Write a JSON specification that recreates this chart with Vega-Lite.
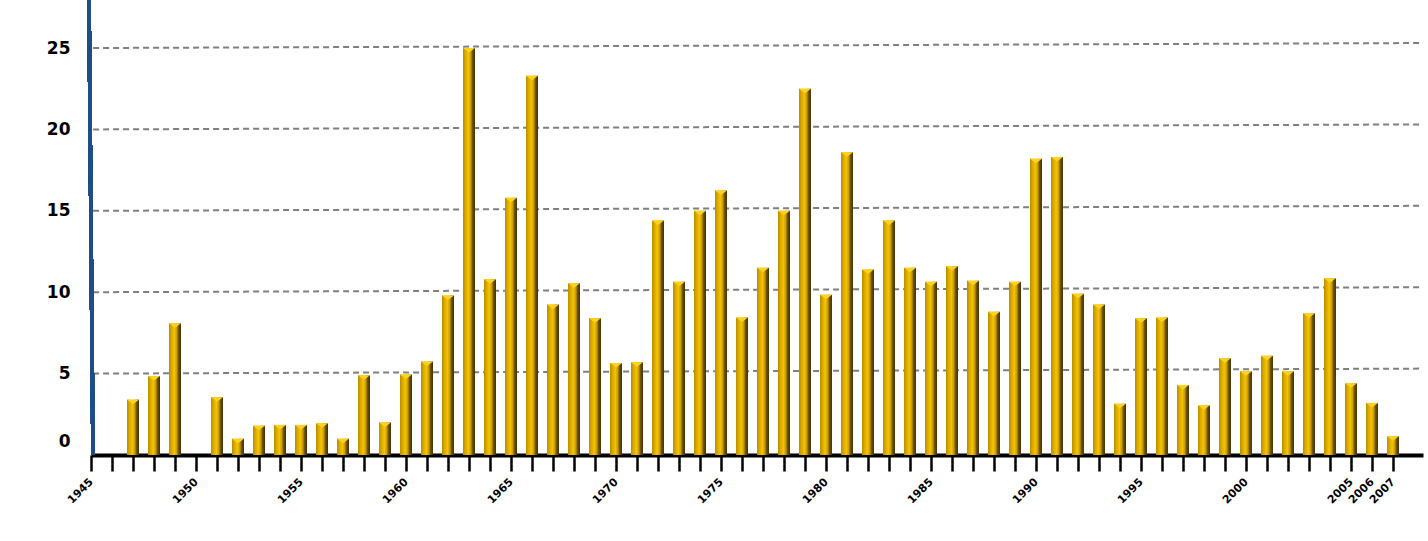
{
  "$schema": "https://vega.github.io/schema/vega-lite/v6.json",
  "width": 1332,
  "height": 455,
  "autosize": {"type": "none"},
  "padding": {"left": 91, "top": 0, "right": 5, "bottom": 86},
  "background": "white",
  "data": {
    "values": [
      {"year": 1947, "value": 3.4},
      {"year": 1948, "value": 4.85},
      {"year": 1949, "value": 8.1},
      {"year": 1951, "value": 3.55},
      {"year": 1952, "value": 1.0},
      {"year": 1953, "value": 1.8},
      {"year": 1954, "value": 1.85},
      {"year": 1955, "value": 1.85},
      {"year": 1956, "value": 1.95},
      {"year": 1957, "value": 1.0},
      {"year": 1958, "value": 4.9},
      {"year": 1959, "value": 2.0},
      {"year": 1960, "value": 4.95},
      {"year": 1961, "value": 5.75},
      {"year": 1962, "value": 9.8},
      {"year": 1963, "value": 25.0},
      {"year": 1964, "value": 10.8},
      {"year": 1965, "value": 15.8},
      {"year": 1966, "value": 23.3},
      {"year": 1967, "value": 9.25},
      {"year": 1968, "value": 10.55},
      {"year": 1969, "value": 8.4},
      {"year": 1970, "value": 5.65},
      {"year": 1971, "value": 5.7},
      {"year": 1972, "value": 14.4},
      {"year": 1973, "value": 10.65},
      {"year": 1974, "value": 15.0},
      {"year": 1975, "value": 16.25},
      {"year": 1976, "value": 8.45},
      {"year": 1977, "value": 11.5},
      {"year": 1978, "value": 15.0},
      {"year": 1979, "value": 22.5},
      {"year": 1980, "value": 9.85},
      {"year": 1981, "value": 18.6},
      {"year": 1982, "value": 11.4},
      {"year": 1983, "value": 14.4},
      {"year": 1984, "value": 11.5},
      {"year": 1985, "value": 10.65},
      {"year": 1986, "value": 11.6},
      {"year": 1987, "value": 10.7},
      {"year": 1988, "value": 8.8},
      {"year": 1989, "value": 10.65},
      {"year": 1990, "value": 18.2},
      {"year": 1991, "value": 18.3},
      {"year": 1992, "value": 9.9},
      {"year": 1993, "value": 9.25},
      {"year": 1994, "value": 3.15},
      {"year": 1995, "value": 8.4},
      {"year": 1996, "value": 8.45},
      {"year": 1997, "value": 4.3},
      {"year": 1998, "value": 3.05},
      {"year": 1999, "value": 5.95},
      {"year": 2000, "value": 5.15},
      {"year": 2001, "value": 6.1},
      {"year": 2002, "value": 5.15},
      {"year": 2003, "value": 8.7},
      {"year": 2004, "value": 10.85},
      {"year": 2005, "value": 4.4},
      {"year": 2006, "value": 3.2},
      {"year": 2007, "value": 1.15}
    ]
  },
  "layer": [
    {
      "data": {"values": [{"g": 5}, {"g": 10}, {"g": 15}, {"g": 20}, {"g": 25}]},
      "mark": {"type": "rule", "color": "#7f7f7f", "strokeWidth": 2, "strokeDash": [6, 4], "y2Offset": -5},
      "encoding": {
        "x": {
          "datum": 1945.1,
          "type": "quantitative",
          "scale": {"domain": [1945, 2008.43], "nice": false, "zero": false, "padding": 0},
          "axis": {
            "values": [1945, 1946, 1947, 1948, 1949, 1950, 1951, 1952, 1953, 1954, 1955, 1956, 1957, 1958, 1959, 1960, 1961, 1962, 1963, 1964, 1965, 1966, 1967, 1968, 1969, 1970, 1971, 1972, 1973, 1974, 1975, 1976, 1977, 1978, 1979, 1980, 1981, 1982, 1983, 1984, 1985, 1986, 1987, 1988, 1989, 1990, 1991, 1992, 1993, 1994, 1995, 1996, 1997, 1998, 1999, 2000, 2001, 2002, 2003, 2004, 2005, 2006, 2007],
            "tickCount": 80,
            "format": "d",
            "labelExpr": "(datum.value % 5 === 0 || datum.value >= 2005) ? datum.label : ''",
            "labelAngle": -45,
            "labelAlign": "right",
            "labelBaseline": "middle",
            "labelFont": "DejaVu Sans",
            "labelFontWeight": "bold",
            "labelFontSize": 11,
            "labelColor": "black",
            "labelPadding": 9,
            "labelOverlap": false,
            "labelFlush": false,
            "labelBound": false,
            "tickColor": "black",
            "tickWidth": 2.5,
            "tickSize": 16,
            "domainColor": "black",
            "domainWidth": 4,
            "grid": false,
            "title": null
          }
        },
        "x2": {"datum": 2008.43},
        "y": {
          "field": "g",
          "type": "quantitative",
          "scale": {"domain": [0, 27.95], "nice": false, "padding": 0},
          "axis": {
            "values": [0, 5, 10, 15, 20, 25],
            "domain": false,
            "ticks": false,
            "grid": false,
            "labelFont": "DejaVu Sans",
            "labelFontWeight": "bold",
            "labelFontSize": 17,
            "labelColor": "black",
            "labelPadding": 21,
            "labelOffset": {"condition": {"test": "datum.value === 0", "value": -14}, "value": 0},
            "title": null
          }
        },
        "y2": {"field": "g"}
      }
    },
    {
      "mark": {
        "type": "bar",
        "width": 12,
        "color": {
          "gradient": "linear",
          "x1": 0, "x2": 1, "y1": 0, "y2": 0,
          "stops": [
            {"offset": 0, "color": "#b88c00"},
            {"offset": 0.2, "color": "#d9a800"},
            {"offset": 0.45, "color": "#f5c400"},
            {"offset": 0.65, "color": "#c99a00"},
            {"offset": 0.8, "color": "#6b5200"},
            {"offset": 1, "color": "#3f3000"}
          ]
        }
      },
      "encoding": {
        "x": {"field": "year", "type": "quantitative"},
        "y": {"field": "value", "type": "quantitative"}
      }
    },
    {
      "mark": {"type": "point", "shape": "M-1,-1L1,-1L0,-0.25Z", "size": 144, "filled": true, "color": "#ffd21f", "opacity": 1, "yOffset": 6, "strokeWidth": 0},
      "encoding": {
        "x": {"field": "year", "type": "quantitative"},
        "y": {"field": "value", "type": "quantitative"}
      }
    },
    {
      "mark": {"type": "rule", "color": "#1f4e86", "strokeWidth": 3.5, "xOffset": 2, "x2Offset": -2},
      "encoding": {
        "x": {"datum": 1945, "type": "quantitative"},
        "x2": {"datum": 1945},
        "y": {"datum": 0, "type": "quantitative"},
        "y2": {"datum": 27.95}
      }
    }
  ],
  "config": {"view": {"stroke": null}, "axisX": {"labelOverlap": false}}
}
